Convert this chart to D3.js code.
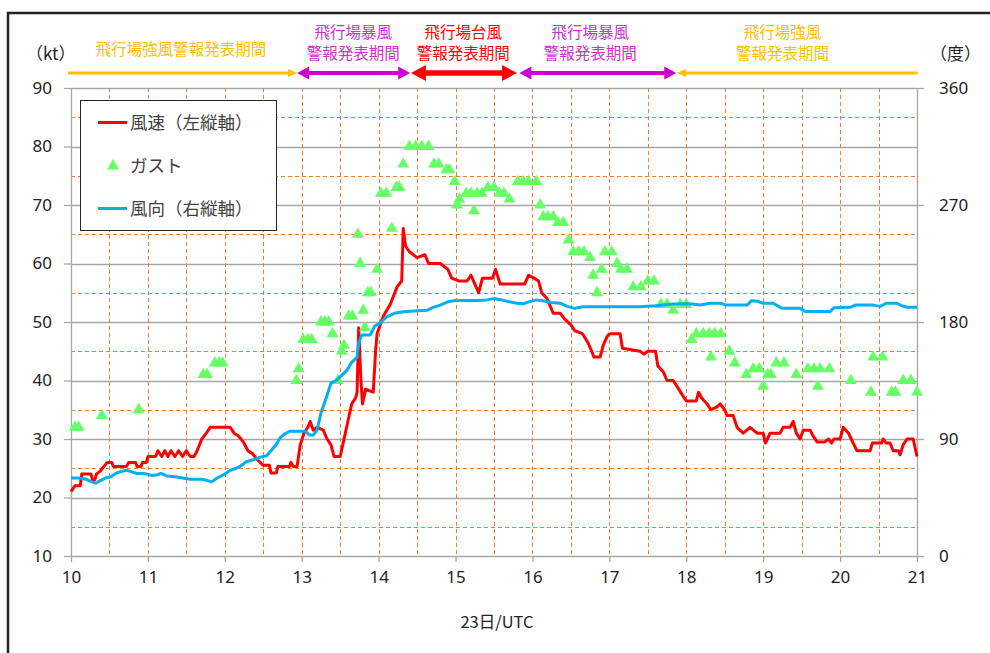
<!DOCTYPE html>
<html>
<head>
<meta charset="utf-8">
<script src="https://cdnjs.cloudflare.com/ajax/libs/d3/7.8.5/d3.min.js"></script>
<style>
body { margin: 0; background: #fff; }
text { font-family: "Noto Sans CJK JP", "Noto Sans", sans-serif; }
</style>
</head>
<body>
<svg id="chart" width="990" height="653"></svg>
<script>
// wind speed (kt), [hour UTC, value]
var speedData = [
  [10.00,21],[10.05,22],[10.12,22],[10.14,24],[10.26,24],[10.28,23],[10.31,23],[10.33,24],[10.38,24.5],[10.47,26],
  [10.53,26],[10.55,25.3],[10.72,25.3],[10.75,26],[10.84,26],[10.86,25.3],[10.91,25.3],[10.93,26],[10.98,26],[11.0,27],
  [11.1,27],[11.13,28],[11.18,27],[11.22,28],[11.26,27],[11.3,28],[11.35,27],[11.4,28],[11.45,27],[11.5,28],
  [11.55,27],[11.6,27],[11.64,28],[11.7,30],[11.76,31],[11.81,32],[12.07,32],[12.12,31],[12.18,30.5],[12.24,29.5],
  [12.3,28],[12.36,27.5],[12.42,26.5],[12.46,26],[12.5,25.5],[12.58,25.5],[12.6,24.2],[12.67,24.2],[12.69,25.3],[12.84,25.3],
  [12.86,26],[12.89,25.3],[12.94,25.3],[12.98,29],[13.03,31],[13.08,32],[13.11,33],[13.15,31.5],[13.2,32],[13.28,31.5],
  [13.33,30],[13.38,29],[13.42,27],[13.5,27],[13.55,30],[13.6,33],[13.65,36],[13.7,37],[13.72,38],[13.74,49],
  [13.77,40],[13.79,36],[13.83,38.5],[13.93,38],[13.96,45],[13.98,48],[14.06,51],[14.15,53],[14.24,56],[14.3,57],
  [14.32,66],[14.35,63],[14.4,62],[14.5,61],[14.6,61.5],[14.65,60],[14.8,60],[14.9,59],[14.95,57.5],[15.05,57],
  [15.15,57],[15.2,58],[15.25,56.5],[15.3,55],[15.35,57.5],[15.48,57.5],[15.52,59],[15.58,56.5],[15.9,56.5],[15.95,58],
  [16.02,57.5],[16.08,57],[16.12,55],[16.19,54],[16.27,51.5],[16.36,51.5],[16.42,50.5],[16.5,49.5],[16.55,48.5],[16.65,48],
  [16.72,46.5],[16.77,45],[16.8,44],[16.88,44],[16.92,46],[16.97,47.5],[17.0,48],[17.14,48],[17.17,45.5],[17.4,45],
  [17.45,44.5],[17.5,45],[17.6,45],[17.63,42.5],[17.7,41.5],[17.75,40],[17.83,40],[17.88,39],[17.95,37.5],[18.0,36.5],
  [18.13,36.5],[18.16,38],[18.2,37],[18.27,36],[18.32,35],[18.4,35.5],[18.44,36],[18.5,35],[18.53,34],[18.61,34],
  [18.66,32],[18.74,31],[18.83,32],[18.92,31],[19.0,31],[19.03,29.3],[19.09,31],[19.22,31],[19.26,32],[19.35,32],
  [19.39,33],[19.43,31],[19.48,30],[19.52,31.5],[19.61,31.5],[19.65,30.5],[19.7,29.5],[19.8,29.5],[19.85,30],[19.89,29.3],
  [19.92,30],[20.0,30],[20.04,32],[20.11,31],[20.17,29.3],[20.22,28],[20.39,28],[20.42,29.3],[20.54,29.3],[20.56,30],
  [20.6,29.3],[20.65,29.3],[20.69,28],[20.76,28],[20.78,27.3],[20.82,29],[20.87,30],[20.95,30],[21.0,27]
];

// wind direction (deg), [hour UTC, value]
var dirData = [
  [10.0,60],[10.1,60],[10.2,59],[10.27,57],[10.32,56],[10.38,58],[10.45,60],[10.52,61],[10.58,63.5],[10.65,65],
  [10.72,66],[10.78,65],[10.85,63.5],[10.95,63.5],[11.05,62],[11.12,62.5],[11.17,63.5],[11.25,61.5],[11.35,61],[11.45,60],
  [11.55,59],[11.7,59],[11.78,58],[11.83,57],[11.9,60],[12.0,63],[12.07,66],[12.15,67.5],[12.2,69],[12.28,72.5],
  [12.37,74],[12.46,76],[12.54,77],[12.6,81],[12.67,86],[12.72,91],[12.78,94],[12.85,96],[13.05,96],[13.1,93],
  [13.15,93],[13.2,97],[13.25,110],[13.32,122],[13.38,133],[13.45,135],[13.52,139],[13.59,143],[13.65,149],[13.72,153],
  [13.74,164],[13.78,170],[13.89,170],[13.95,177],[14.02,179],[14.1,184],[14.22,187],[14.35,188],[14.63,189],[14.7,191],
  [14.8,193],[14.9,195.5],[15.0,196.5],[15.28,196.5],[15.41,197],[15.5,198],[15.6,197],[15.7,195.5],[15.8,194.5],[15.88,194],
  [15.95,195.5],[16.05,197],[16.12,196.5],[16.25,195],[16.36,194.5],[16.45,192],[16.55,190.5],[16.65,191.8],[17.0,191.8],[17.4,191.8],
  [17.6,192.5],[17.83,193.8],[18.05,194],[18.18,193],[18.31,194.4],[18.44,194.4],[18.53,193],[18.79,193],[18.85,196.4],[18.92,196],
  [19.0,194.4],[19.13,194.4],[19.2,192],[19.25,190.5],[19.48,190.5],[19.55,188],[19.87,188],[19.92,191],[20.13,191.3],[20.2,193],
  [20.43,193],[20.52,192],[20.6,194.4],[20.74,194.4],[20.8,192.5],[20.87,191.3],[21.0,191.3]
];

// gusts (kt), [hour UTC, value]
var gustData = [
  [10.05,32],[10.1,32],[10.4,34],[10.88,35],[11.72,41],[11.77,41],[11.87,43],[11.93,43],[11.97,43],
  [12.93,40],[12.96,42],[13.02,47],[13.08,47],[13.13,47],[13.25,50],[13.3,50],[13.35,50],[13.4,48],
  [13.47,40],[13.52,45],[13.55,46],[13.61,51],[13.66,51],[13.73,65],[13.76,60],[13.8,52],[13.82,49],
  [13.86,55],[13.9,55],[13.98,59],[14.03,72],[14.1,72],[14.17,66],[14.23,73],[14.27,73],[14.32,77],
  [14.4,80],[14.48,80],[14.56,80],[14.65,80],[14.72,77],[14.78,77],[14.88,76],[14.92,76],[14.99,74],
  [15.02,70],[15.05,71],[15.14,72],[15.2,72],[15.24,69],[15.28,72],[15.34,72],[15.42,73],[15.5,73],
  [15.57,72],[15.63,72],[15.7,71],[15.81,74],[15.88,74],[15.95,74],[16.05,74],[16.1,70],[16.14,68],
  [16.2,68],[16.27,68],[16.33,67],[16.4,67],[16.47,64],[16.53,62],[16.6,62],[16.67,62],[16.75,61],
  [16.79,58],[16.84,55],[16.9,59],[16.94,62],[17.03,62],[17.1,60],[17.15,59],[17.23,59],[17.31,56],
  [17.41,56],[17.5,57],[17.58,57],[17.67,53],[17.75,53],[17.83,52],[17.92,53],[18.0,53],[18.07,47],
  [18.13,48],[18.22,48],[18.3,48],[18.32,44],[18.37,48],[18.45,48],[18.56,45],[18.63,43],[18.78,41],
  [18.87,42],[18.95,42],[19.0,39],[19.06,41],[19.1,41],[19.17,43],[19.27,43],[19.43,41],[19.58,42],
  [19.66,42],[19.71,39],[19.74,42],[19.86,42],[20.14,40],[20.4,38],[20.43,44],[20.55,44],[20.67,38],
  [20.72,38],[20.82,40],[20.92,40],[21.0,38]
];

var leftTicks = [10, 20, 30, 40, 50, 60, 70, 80, 90];
var rightTicks = [0, 90, 180, 270, 360];
var hourTicks = [10, 11, 12, 13, 14, 15, 16, 17, 18, 19, 20, 21];

// warning periods
var periodNames = [["飛行場強風警報発表期間"], ["飛行場暴風", "警報発表期間"], ["飛行場台風", "警報発表期間"], ["飛行場暴風", "警報発表期間"], ["飛行場強風", "警報発表期間"]];
var periodStart = [9.96, 12.94, 14.42, 15.83, 17.88];
var periodEnd = [12.94, 14.41, 15.8, 17.87, 21.01];
var periodLabelAt = [11.43, 13.67, 15.1, 16.75, 19.25];
var periodHeads = [[false, true], [true, true], [true, true], [true, true], [true, false]];
var periodColors = ["#FFC000", "#CC00CC", "#FF0000", "#CC00CC", "#FFC000"];
var periodTextColors = ["#FFC000", "#CC33CC", "#FF0000", "#CC33CC", "#FFC000"];

var svg = d3.select("#chart");

svg.append("rect").attr("width", 990).attr("height", 653).attr("fill", "#fff");

// outer frame (only the top/left edges are visible)
svg.append("path")
    .attr("d", "M8,653V13H990")
    .attr("fill", "none")
    .attr("stroke", "#222")
    .attr("stroke-width", 2.5);

var x = d3.scaleLinear().domain([10, 21]).range([71, 917]),
    y = d3.scaleLinear().domain([10, 90]).range([556, 88]),
    y2 = d3.scaleLinear().domain([0, 360]).range([556, 88]);

var grid = svg.append("g");

grid.selectAll(".hdash")
    .data(d3.range(15, 90, 10))
  .enter().append("line")
    .attr("x1", 71).attr("x2", 917)
    .attr("y1", function(d) { return Math.round(y(d)) + 0.5; })
    .attr("y2", function(d) { return Math.round(y(d)) + 0.5; })
    .attr("stroke", "#ED7D31")
    .attr("stroke-dasharray", "4,3");

grid.selectAll(".hsolid")
    .data(d3.range(20, 91, 10))
  .enter().append("line")
    .attr("x1", 71).attr("x2", 917)
    .attr("y1", function(d) { return Math.round(y(d)) + 0.5; })
    .attr("y2", function(d) { return Math.round(y(d)) + 0.5; })
    .attr("stroke", "#A6A6A6")
    .attr("stroke-width", 1.3);

grid.selectAll(".vdash")
    .data(d3.range(10.5, 21.01, 0.5))
  .enter().append("line")
    .attr("x1", function(d) { return Math.round(x(d)) + 0.5; })
    .attr("x2", function(d) { return Math.round(x(d)) + 0.5; })
    .attr("y1", 88).attr("y2", 556)
    .attr("stroke", "#ED7D31")
    .attr("stroke-dasharray", "4,3");

// axes
var leftAxis = svg.append("g")
    .attr("transform", "translate(71,0)")
    .call(d3.axisLeft(y).tickValues(leftTicks).tickSize(7).tickSizeOuter(0).tickPadding(12));

var rightAxis = svg.append("g")
    .attr("transform", "translate(917,0)")
    .call(d3.axisRight(y2).tickValues(rightTicks).tickSize(7).tickSizeOuter(0).tickPadding(15));

var bottomAxis = svg.append("g")
    .attr("transform", "translate(0,556)")
    .call(d3.axisBottom(x).tickValues(hourTicks).tickSize(6).tickSizeOuter(0).tickPadding(9));

[leftAxis, rightAxis, bottomAxis].forEach(function(a) {
  a.select(".domain").attr("stroke", "#A6A6A6").attr("stroke-width", 1.3);
  a.selectAll(".tick line").attr("stroke", "#A6A6A6").attr("stroke-width", 1.3);
  a.selectAll(".tick text")
      .attr("fill", "#222")
      .style("font-size", "17px")
      .style("font-family", "'Noto Sans', sans-serif");
});

// series
var speedLine = d3.line()
    .x(function(d) { return x(d[0]); })
    .y(function(d) { return y(d[1]); });

var dirLine = d3.line()
    .x(function(d) { return x(d[0]); })
    .y(function(d) { return y2(d[1]); });

svg.append("path")
    .datum(speedData)
    .attr("d", speedLine)
    .attr("fill", "none")
    .attr("stroke", "#FF0000")
    .attr("stroke-width", 3)
    .attr("stroke-linejoin", "round");

svg.append("g")
  .selectAll("path")
    .data(gustData)
  .enter().append("path")
    .attr("transform", function(d) { return "translate(" + x(d[0]) + "," + y(d[1]) + ")"; })
    .attr("d", d3.symbol().type(d3.symbolTriangle).size(62))
    .attr("fill", "#66FF66");

svg.append("path")
    .datum(dirData)
    .attr("d", dirLine)
    .attr("fill", "none")
    .attr("stroke", "#00B0F0")
    .attr("stroke-width", 3)
    .attr("stroke-linejoin", "round");

// legend
var legend = svg.append("g");
legend.append("rect")
    .attr("x", 80.5).attr("y", 100.5)
    .attr("width", 196).attr("height", 130)
    .attr("fill", "#fff")
    .attr("stroke", "#262626");

legend.append("line")
    .attr("x1", 98).attr("x2", 127).attr("y1", 122.5).attr("y2", 122.5)
    .attr("stroke", "#FF0000").attr("stroke-width", 3);
legend.append("path")
    .attr("transform", "translate(113,166)")
    .attr("d", d3.symbol().type(d3.symbolTriangle).size(62))
    .attr("fill", "#66FF66");
legend.append("line")
    .attr("x1", 98).attr("x2", 127).attr("y1", 208.5).attr("y2", 208.5)
    .attr("stroke", "#00B0F0").attr("stroke-width", 3);

legend.selectAll("text")
    .data(["風速（左縦軸）", "ガスト", "風向（右縦軸）"])
  .enter().append("text")
    .attr("x", 130)
    .attr("y", function(d, i) { return 129 + i * 43; })
    .attr("fill", "#404040")
    .style("font-size", "17.5px")
    .text(function(d) { return d; });

// unit labels and x title
svg.append("text").attr("x", 26).attr("y", 60).attr("fill", "#222")
    .style("font-size", "17px").text("（kt）");
svg.append("text").attr("x", 930).attr("y", 60).attr("fill", "#222")
    .style("font-size", "17px").text("（度）");
svg.append("text").attr("x", 497).attr("y", 628).attr("text-anchor", "middle")
    .attr("fill", "#222").style("font-size", "16.5px").text("23日/UTC");

// warning period arrows
var arrowY = 73;
var arrowSize = { "#FFC000": [3, 9, 8], "#CC00CC": [4, 12, 13], "#FF0000": [5.5, 15, 16] };

periodNames.forEach(function(names, i) {
  var c = periodColors[i],
      sz = arrowSize[c],
      x0 = x(periodStart[i]),
      x1 = x(periodEnd[i]),
      hl = sz[1], hw = sz[2] / 2,
      g = svg.append("g");

  g.append("line")
      .attr("x1", periodHeads[i][0] ? x0 + hl - 1 : x0)
      .attr("x2", periodHeads[i][1] ? x1 - hl + 1 : x1)
      .attr("y1", arrowY).attr("y2", arrowY)
      .attr("stroke", c)
      .attr("stroke-width", sz[0]);

  if (periodHeads[i][0]) {
    g.append("path")
        .attr("d", "M" + x0 + "," + arrowY + "L" + (x0 + hl) + "," + (arrowY - hw) + "L" + (x0 + hl) + "," + (arrowY + hw) + "Z")
        .attr("fill", c);
  }
  if (periodHeads[i][1]) {
    g.append("path")
        .attr("d", "M" + x1 + "," + arrowY + "L" + (x1 - hl) + "," + (arrowY - hw) + "L" + (x1 - hl) + "," + (arrowY + hw) + "Z")
        .attr("fill", c);
  }

  g.selectAll("text")
      .data(names)
    .enter().append("text")
      .attr("x", x(periodLabelAt[i]))
      .attr("y", function(d, j) { return names.length == 1 ? 55 : 38 + j * 21; })
      .attr("text-anchor", "middle")
      .attr("fill", periodTextColors[i])
      .style("font-size", "15.5px")
      .text(function(d) { return d; });
});
</script>
</body>
</html>
